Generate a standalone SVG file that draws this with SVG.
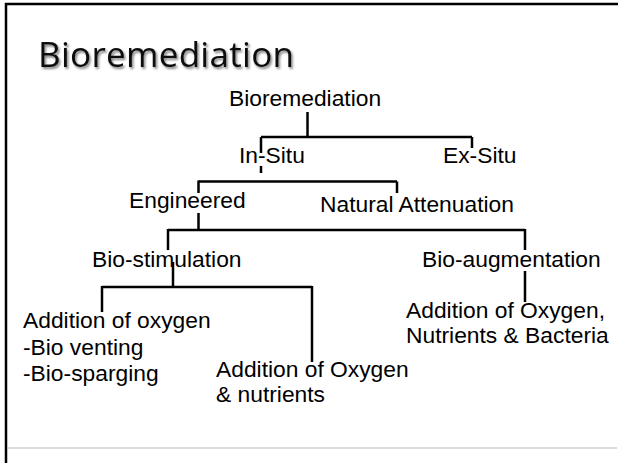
<svg xmlns="http://www.w3.org/2000/svg" width="618" height="463" viewBox="0 0 618 463">
  <defs>
    <filter id="titleShadow" x="-10%" y="-30%" width="120%" height="160%">
      <feDropShadow dx="1.5" dy="2" stdDeviation="1.3" flood-color="#000" flood-opacity="0.5"/>
    </filter>
    <style>
      .frame { stroke: #000; stroke-width: 2.5; fill: none; }
      .rule { stroke: #cfcfcf; stroke-width: 1.5; fill: none; }
      .title { font-family: "Open Sans", "Noto Sans", sans-serif; font-size: 35px; fill: #111; }
      .lbl { font-family: "Liberation Sans", Arial, sans-serif; font-size: 22.8px; fill: #000; }
      .edge { stroke: #000; stroke-width: 2.5; fill: none; stroke-linecap: butt; }
    </style>
  </defs>

  <rect width="618" height="463" fill="#fff"/>

  <!-- slide frame -->
  <path class="frame" d="M6,463 V4 H618"/>
  <line class="rule" x1="7" y1="448" x2="617" y2="448"/>

  <!-- slide title -->
  <text class="title" x="38" y="67" textLength="256" filter="url(#titleShadow)">Bioremediation</text>

  <!-- tree connectors -->
  <g id="connectors">
    <path class="edge" d="M307.5,112 V137"/>
    <path class="edge" d="M261,137 H472"/>
    <path class="edge" d="M261,137 V153 M261,166 V173"/>
    <path class="edge" d="M472,137 V148"/>
    <path class="edge" d="M198.5,181.5 H397"/>
    <path class="edge" d="M198.5,180.5 V193 M198.5,213 V230"/>
    <path class="edge" d="M397,181.5 V193"/>
    <path class="edge" d="M168,230 H525"/>
    <path class="edge" d="M168,229 V250"/>
    <path class="edge" d="M525,229 V250 M525,271 V302"/>
    <path class="edge" d="M173,262 V287"/>
    <path class="edge" d="M102,287 H312"/>
    <path class="edge" d="M102,286 V312"/>
    <path class="edge" d="M312,286 V362"/>
  </g>

  <!-- tree nodes -->
  <g id="root"><text class="lbl" x="229" y="106">Bioremediation</text></g>
  <g id="in-situ"><text class="lbl" x="239" y="163">In-Situ</text></g>
  <g id="ex-situ"><text class="lbl" x="443" y="163">Ex-Situ</text></g>
  <g id="engineered"><text class="lbl" x="129" y="208">Engineered</text></g>
  <g id="natural-attenuation"><text class="lbl" x="320" y="212">Natural Attenuation</text></g>
  <g id="bio-stimulation"><text class="lbl" x="92" y="267">Bio-stimulation</text></g>
  <g id="bio-augmentation"><text class="lbl" x="422" y="267">Bio-augmentation</text></g>
  <g id="oxygen">
    <text class="lbl" x="23" y="328">Addition of oxygen</text>
    <text class="lbl" x="23" y="355">-Bio venting</text>
    <text class="lbl" x="23" y="381">-Bio-sparging</text>
  </g>
  <g id="oxygen-nutrients">
    <text class="lbl" x="216" y="377">Addition of Oxygen</text>
    <text class="lbl" x="216" y="402">&amp; nutrients</text>
  </g>
  <g id="oxygen-nutrients-bacteria">
    <text class="lbl" x="406" y="318">Addition of Oxygen,</text>
    <text class="lbl" x="406" y="343">Nutrients &amp; Bacteria</text>
  </g>
</svg>
